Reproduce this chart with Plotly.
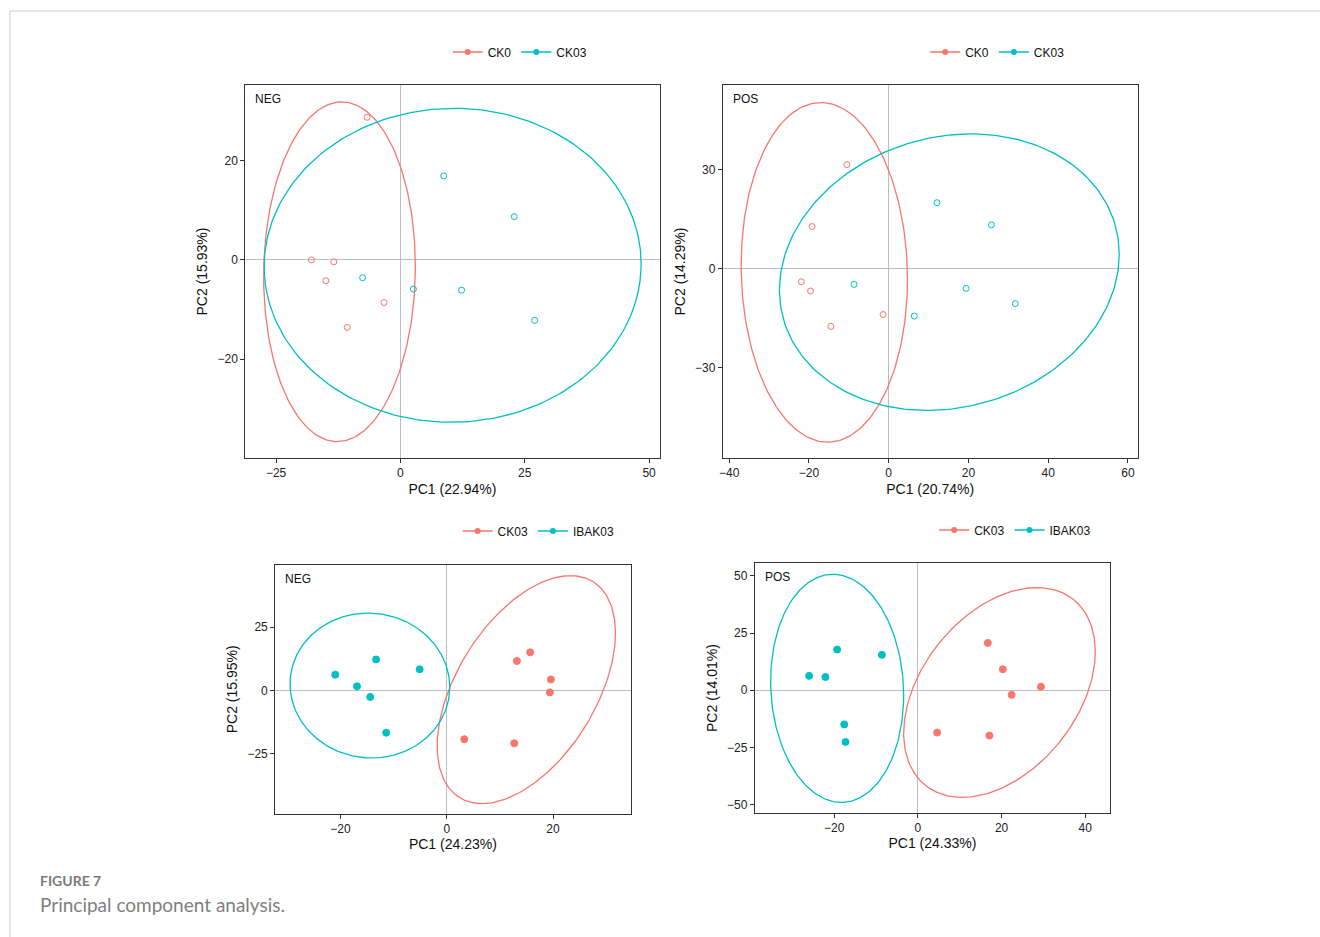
import numpy as np
import plotly.graph_objects as go

RED = "#F8766D"
TEAL = "#00BFC4"

# ---------------- data ----------------
# Panel 1: CK0 vs CK03, NEG
p1_ck0_x = [-17.9, -13.4, -15.0, -3.3, -10.7, -6.7]
p1_ck0_y = [0.0, -0.4, -4.2, -8.6, -13.6, 28.7]
p1_ck03_x = [-7.6, 2.6, 8.7, 12.3, 22.9, 27.0]
p1_ck03_y = [-3.6, -5.9, 16.9, -6.1, 8.7, -12.2]
# ellipse params: center x, center y, half x-extent, half y-extent, cos(delta)
p1_ck0_ell = [-12.25, -2.4, 15.25, 34.2, 0.03]
p1_ck03_ell = [10.5, -1.1, 37.9, 31.6, 0.008]

# Panel 2: CK0 vs CK03, POS
p2_ck0_x = [-10.5, -19.2, -21.9, -19.6, -14.5, -1.4]
p2_ck0_y = [31.4, 12.7, -4.0, -6.8, -17.5, -13.9]
p2_ck03_x = [-8.7, 6.4, 12.1, 19.4, 25.75, 31.75]
p2_ck03_y = [-4.8, -14.4, 19.9, -6.0, 13.2, -10.6]
p2_ck0_ell = [-16.15, -1.15, 20.85, 51.35, -0.041]
p2_ck03_ell = [15.2, -1.1, 42.6, 41.8, 0.129]

# Panel 3: CK03 vs IBAK03, NEG
p3_ck03_x = [13.2, 15.7, 19.6, 19.4, 3.3, 12.7]
p3_ck03_y = [11.6, 15.0, 4.3, -0.8, -19.3, -20.9]
p3_ibak_x = [-21.0, -16.9, -13.3, -14.4, -5.1, -11.4]
p3_ibak_y = [6.2, 1.6, 12.2, -2.6, 8.3, -16.7]
p3_ck03_ell = [14.97, 0.3, 16.78, 45.0, 0.496]
p3_ibak_ell = [-14.47, 1.9, 15.03, 28.6, -0.022]

# Panel 4: CK03 vs IBAK03, POS
p4_ck03_x = [16.7, 20.3, 29.4, 22.4, 4.6, 17.1]
p4_ck03_y = [20.7, 9.2, 1.6, -2.0, -18.5, -19.8]
p4_ibak_x = [-19.3, -8.6, -26.0, -22.1, -17.6, -17.3]
p4_ibak_y = [17.8, 15.5, 6.3, 5.8, -14.9, -22.6]
p4_ck03_ell = [19.5, -0.95, 22.9, 45.85, 0.389]
p4_ibak_ell = [-19.3, 0.85, 15.9, 49.85, -0.063]

x_titles = ["PC1 (22.94%)", "PC1 (20.74%)", "PC1 (24.23%)", "PC1 (24.33%)"]
y_titles = ["PC2 (15.93%)", "PC2 (14.29%)", "PC2 (15.95%)", "PC2 (14.01%)"]
tags = ["NEG", "POS", "NEG", "POS"]
x_ticks = [[-25, 0, 25, 50], [-40, -20, 0, 20, 40, 60], [-20, 0, 20], [-20, 0, 20, 40]]
y_ticks = [[-20, 0, 20], [-30, 0, 30], [-25, 0, 25], [-50, -25, 0, 25, 50]]
x_ranges = [[-31.2, 52.1], [-41.6, 62.4], [-32.3, 34.6], [-39.0, 45.95]]
y_ranges = [[-39.9, 35.2], [-57.3, 55.5], [-48.7, 49.5], [-53.5, 55.5]]
groups_top = ["CK0", "CK03"]
groups_bottom = ["CK03", "IBAK03"]

# ---------------- layout geometry (pixels) ----------------
W, H = 1320, 937
boxes = [  # left, right, top, bottom
    (242.0, 657.5, 85.0, 458.0),
    (721.0, 1137.0, 85.0, 458.0),
    (272.0, 628.5, 565.0, 813.7),
    (753.0, 1109.5, 563.3, 812.7),
]
legend_pos = [(445, 52), (924, 52), (455, 531), (933, 530)]


def ellipse(p, n=240):
    cx, cy, rx, ry, cd = p
    d = np.arccos(cd)
    t = np.linspace(0, 2 * np.pi, n)
    return cx + rx * np.cos(t), cy + ry * np.cos(t - d)


fig = go.Figure()

panels = [
    (p1_ck0_x, p1_ck0_y, p1_ck0_ell, p1_ck03_x, p1_ck03_y, p1_ck03_ell, groups_top, "circle-open", 6),
    (p2_ck0_x, p2_ck0_y, p2_ck0_ell, p2_ck03_x, p2_ck03_y, p2_ck03_ell, groups_top, "circle-open", 6),
    (p3_ck03_x, p3_ck03_y, p3_ck03_ell, p3_ibak_x, p3_ibak_y, p3_ibak_ell, groups_bottom, "circle", 7),
    (p4_ck03_x, p4_ck03_y, p4_ck03_ell, p4_ibak_x, p4_ibak_y, p4_ibak_ell, groups_bottom, "circle", 7),
]

font = "Liberation Sans, Arial, Helvetica, sans-serif"
layout_axes = {}
annotations = []
for i, (ax_, ay_, ae, bx_, by_, be, grp, sym, msz) in enumerate(panels):
    k = i + 1
    xa = "x" if k == 1 else f"x{k}"
    ya = "y" if k == 1 else f"y{k}"
    lg = "legend" if k == 1 else f"legend{k}"
    for (px, py, pe, name, col) in [(ax_, ay_, ae, grp[0], RED), (bx_, by_, be, grp[1], TEAL)]:
        ex, ey = ellipse(pe)
        fig.add_trace(go.Scatter(x=ex, y=ey, mode="lines", line=dict(color=col, width=1.3),
                                 xaxis=xa, yaxis=ya, showlegend=False, hoverinfo="skip"))
        fig.add_trace(go.Scatter(x=px, y=py, mode="markers",
                                 marker=dict(symbol=sym, size=msz, color=col,
                                             line=dict(color=col, width=1)),
                                 xaxis=xa, yaxis=ya, showlegend=False, name=name))
        # legend entry
        fig.add_trace(go.Scatter(x=[None], y=[None], mode="lines+markers", name=name,
                                 line=dict(color=col, width=1.3),
                                 marker=dict(symbol="circle", size=6, color=col),
                                 xaxis=xa, yaxis=ya, legend=lg, showlegend=True))
    l, r, t, b = boxes[i]
    axcommon = dict(showgrid=False, zeroline=True, zerolinecolor="#BEBEBE", zerolinewidth=1.2,
                    showline=True, linecolor="#333333", linewidth=1, mirror=True,
                    ticks="outside", ticklen=4, tickcolor="#333333", tickwidth=1,
                    tickfont=dict(family=font, size=12, color="#222222"))
    layout_axes["xaxis" if k == 1 else f"xaxis{k}"] = dict(
        axcommon, domain=[l / W, r / W], range=x_ranges[i], tickvals=x_ticks[i],
        anchor=ya, title=dict(text=x_titles[i], font=dict(family=font, size=14, color="#111"), standoff=4))
    layout_axes["yaxis" if k == 1 else f"yaxis{k}"] = dict(
        axcommon, domain=[1 - b / H, 1 - t / H], range=y_ranges[i], tickvals=y_ticks[i],
        anchor=xa, title=dict(text=y_titles[i], font=dict(family=font, size=14, color="#111"), standoff=6))
    lx, ly = legend_pos[i]
    layout_axes[lg] = dict(orientation="h", x=lx / W, y=1 - ly / H, xanchor="left", yanchor="middle",
                           font=dict(family=font, size=12, color="#111"), bgcolor="rgba(0,0,0,0)",
                           itemwidth=30, tracegroupgap=0)
    annotations.append(dict(text=tags[i], x=(l + 8) / W, y=1 - (t + 14) / H, xref="paper", yref="paper",
                            xanchor="left", yanchor="middle", showarrow=False,
                            font=dict(family=font, size=12, color="#111")))

annotations.append(dict(text="FIGURE 7", x=34 / W, y=1 - 880 / H, xref="paper", yref="paper",
                        xanchor="left", yanchor="middle", showarrow=False,
                        font=dict(family="Lato, Open Sans, sans-serif", size=14, color="#7a7a7a",
                                  weight="bold")))
annotations.append(dict(text="Principal component analysis.", x=34 / W, y=1 - 904 / H, xref="paper",
                        yref="paper", xanchor="left", yanchor="middle", showarrow=False,
                        font=dict(family="Lato, Open Sans, sans-serif", size=19, color="#808080")))

shapes = [
    dict(type="line", xref="paper", yref="paper", x0=6 / W, x1=6 / W, y0=0, y1=1 - 11 / H,
         line=dict(color="#CCCCCC", width=1)),
    dict(type="line", xref="paper", yref="paper", x0=6 / W, x1=1, y0=1 - 11 / H, y1=1 - 11 / H,
         line=dict(color="#CCCCCC", width=1)),
]

fig.update_layout(width=W, height=H, margin=dict(l=0, r=0, t=0, b=0),
                  paper_bgcolor="white", plot_bgcolor="white",
                  annotations=annotations, shapes=shapes, **layout_axes)

fig.write_html("out.html", config={"displayModeBar": False},
               post_script="document.body.style.margin='0';document.body.style.padding='0';"
                           "document.body.style.overflow='hidden';")
